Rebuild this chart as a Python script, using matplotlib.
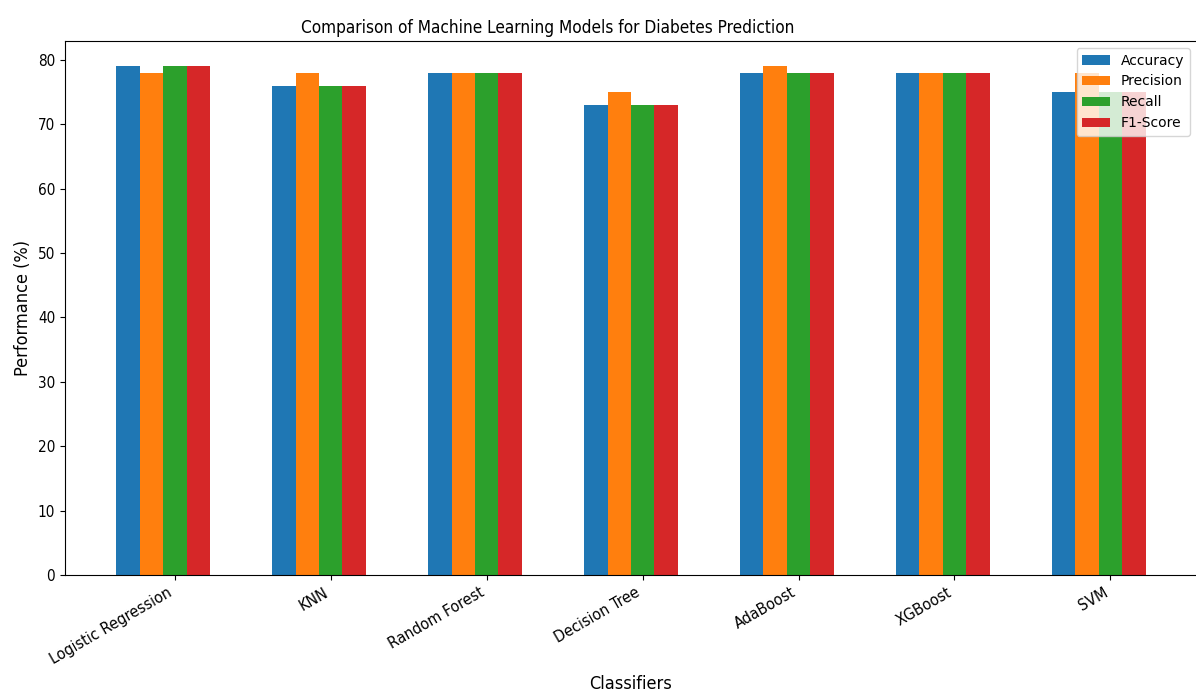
import numpy as np
import matplotlib
matplotlib.use('Agg')
import matplotlib.pyplot as plt

# Data
classifiers = ['Logistic Regression', 'KNN', 'Random Forest', 'Decision Tree',
               'AdaBoost', 'XGBoost', 'SVM']
metrics = ['Accuracy', 'Precision', 'Recall', 'F1-Score']
accuracy = [79, 76, 78, 73, 78, 78, 75]
precision = [78, 78, 78, 75, 79, 78, 78]
recall = [79, 76, 78, 73, 78, 78, 75]
f1_score = [79, 76, 78, 73, 78, 78, 75]

series = [accuracy, precision, recall, f1_score]

fig = plt.figure(figsize=(11.96, 6.95), dpi=100)
ax = fig.add_axes([0.0543, 0.1727, 0.9465, 0.7683])

x = np.arange(len(classifiers))
width = 0.15
for i, (name, vals) in enumerate(zip(metrics, series)):
    ax.bar(x + (i - 2) * width, vals, width, label=name)

ax.set_title('Comparison of Machine Learning Models for Diabetes Prediction',
             fontsize=12.3, fontstretch='condensed', x=0.4265)
ax.set_xlabel('Classifiers', fontsize=13, fontstretch='condensed')
ax.xaxis.set_label_coords(0.5, -0.1875)
ax.set_ylabel('Performance (%)', fontsize=13, fontstretch='condensed')
ax.set_xticks(x)
ax.set_xticklabels(classifiers, rotation=30, ha='right', fontsize=11.5,
                   fontstretch='condensed')
for lbl in ax.get_yticklabels():
    lbl.set_fontstretch('condensed')
    lbl.set_fontsize(11)
ax.legend(loc='upper right')

fig.savefig('out.png', dpi=100)
